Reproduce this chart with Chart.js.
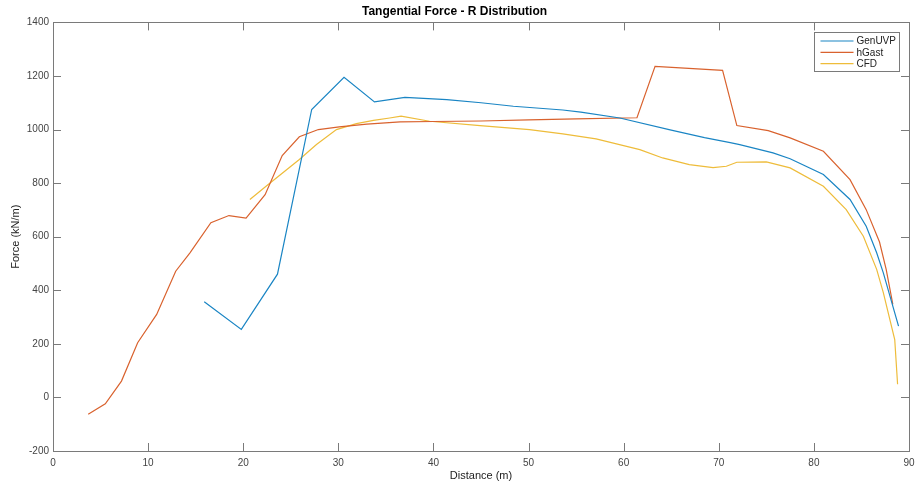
<!DOCTYPE html>
<html>
<head>
<meta charset="utf-8">
<script src="https://cdn.jsdelivr.net/npm/chart.js@4.4.1/dist/chart.umd.min.js"></script>
<style>
  html, body { margin: 0; padding: 0; background: #fff; }
  #wrap { width: 915px; height: 490px; }
</style>
</head>
<body>
<div id="wrap"><canvas id="forceChart" width="915" height="490"></canvas></div>
<script>
// Values
const genUvpX = [15.9, 19.8, 23.6, 27.2, 30.6, 33.8, 37.0, 41.4, 45.0, 48.4, 53.6, 55.5, 59.6, 65.0, 68.5, 71.2, 72.2, 75.7, 77.5, 81.0, 83.8, 85.5, 86.6, 87.3, 88.9];
const genUvpY = [357, 254, 460, 1075, 1195, 1103, 1120, 1112, 1100, 1087, 1073, 1065, 1043, 998, 970, 951, 944, 913, 891, 832, 739, 639, 540, 465, 266];

const hGastX = [3.7, 5.5, 7.2, 8.9, 10.9, 12.9, 14.4, 16.6, 18.5, 20.3, 22.3, 24.1, 25.9, 27.9, 30.1, 33.0, 36.5, 40.0, 45.0, 50.0, 55.0, 61.4, 63.3, 70.4, 71.9, 75.2, 77.5, 81.0, 83.8, 85.5, 86.9, 87.6, 88.3];
const hGastY = [-63, -24, 61, 204, 310, 471, 540, 652, 679, 669, 757, 903, 973, 1000, 1010, 1020, 1029, 1030, 1032, 1036, 1040, 1044, 1236, 1221, 1015, 996, 969, 919, 813, 701, 580, 478, 347];

const cfdX = [20.7, 22.4, 25.9, 27.7, 29.8, 31.9, 33.7, 35.4, 36.6, 39.6, 44.9, 50.1, 53.6, 57.1, 61.7, 64.1, 66.9, 69.4, 70.8, 71.9, 75.0, 77.5, 81.0, 83.4, 85.2, 86.6, 87.3, 88.5, 88.8];
const cfdY = [739, 788, 888, 944, 1000, 1022, 1034, 1043, 1050, 1031, 1015, 1000, 984, 965, 925, 894, 869, 858, 863, 878, 879, 857, 788, 701, 602, 478, 391, 216, 49];

const seriesNames = ["GenUVP", "hGast", "CFD"];
const seriesColors = ["#1a85c4", "#d9622e", "#eebc3a"];

const xTitle = "Distance (m)";
const yTitle = "Force (kN/m)";
const chartTitle = "Tangential Force - R Distribution";

function toPoints(xs, ys) {
  return xs.map((x, i) => ({ x: x, y: ys[i] }));
}

// MATLAB style box with inward ticks
const boxPlugin = {
  id: "boxPlugin",
  afterDraw(chart) {
    const ctx = chart.ctx;
    const a = chart.chartArea;
    const xs = chart.scales.x;
    const ys = chart.scales.y;
    const len = 8;
    ctx.save();
    ctx.strokeStyle = "#7a7a7a";
    ctx.lineWidth = 1;
    ctx.strokeRect(Math.round(a.left) + 0.5, Math.round(a.top) + 0.5,
      Math.round(a.right - a.left), Math.round(a.bottom - a.top));
    ctx.beginPath();
    xs.ticks.forEach(t => {
      const px = Math.round(xs.getPixelForValue(t.value)) + 0.5;
      ctx.moveTo(px, a.bottom); ctx.lineTo(px, a.bottom - len);
      ctx.moveTo(px, a.top); ctx.lineTo(px, a.top + len);
    });
    ys.ticks.forEach(t => {
      const py = Math.round(ys.getPixelForValue(t.value)) + 0.5;
      ctx.moveTo(a.left, py); ctx.lineTo(a.left + len, py);
      ctx.moveTo(a.right, py); ctx.lineTo(a.right - len, py);
    });
    ctx.stroke();
    ctx.restore();
  }
};

// legend box in the top right corner of the plot
const legendPlugin = {
  id: "legendPlugin",
  afterDraw(chart) {
    const ctx = chart.ctx;
    const a = chart.chartArea;
    const w = 85, h = 39;
    const left = Math.round(a.right - 10 - w) + 0.5;
    const top = Math.round(a.top + 10) + 0.5;
    ctx.save();
    ctx.fillStyle = "#fff";
    ctx.fillRect(left, top, w, h);
    ctx.strokeStyle = "#7a7a7a";
    ctx.lineWidth = 1;
    ctx.strokeRect(left, top, w, h);
    ctx.font = "10px 'Liberation Sans', Arial, sans-serif";
    ctx.textBaseline = "middle";
    chart.data.datasets.forEach((ds, i) => {
      const y = top + 8.5 + i * 11.3;
      ctx.strokeStyle = ds.borderColor;
      ctx.lineWidth = 1.2;
      ctx.beginPath();
      ctx.moveTo(left + 6, y);
      ctx.lineTo(left + 39, y);
      ctx.stroke();
      ctx.fillStyle = "#222";
      ctx.fillText(ds.label, left + 42, y + 0.5);
    });
    ctx.restore();
  }
};

const chartData = {
  datasets: [
    { label: seriesNames[0], data: toPoints(genUvpX, genUvpY), borderColor: seriesColors[0] },
    { label: seriesNames[1], data: toPoints(hGastX, hGastY), borderColor: seriesColors[1] },
    { label: seriesNames[2], data: toPoints(cfdX, cfdY), borderColor: seriesColors[2] },
  ].map(ds => Object.assign(ds, { borderWidth: 1.2, pointRadius: 0, fill: false, tension: 0 })),
};

const tickFont = { family: "'Liberation Sans', Arial, sans-serif", size: 10 };

const config = {
  type: "line",
  data: chartData,
  options: {
    responsive: false,
    animation: false,
    layout: { padding: { left: 0, right: 6, top: 0, bottom: 0 } },
    plugins: {
      legend: { display: false },
      tooltip: { enabled: false },
      title: {
        display: true,
        text: chartTitle,
        color: "#000",
        font: { family: "'Liberation Sans', Arial, sans-serif", size: 12, weight: "bold" },
        padding: { top: 4, bottom: 4 },
      },
    },
    scales: {
      x: {
        type: "linear",
        min: 0,
        max: 90,
        grid: { display: false, drawTicks: false },
        border: { display: false },
        ticks: { stepSize: 10, color: "#444", font: tickFont, padding: 6, maxRotation: 0, callback: v => String(v) },
        title: {
          display: true,
          text: xTitle,
          color: "#222",
          font: { family: "'Liberation Sans', Arial, sans-serif", size: 11 },
          padding: { top: 0, bottom: 7 },
        },
        afterFit(scale) {
          scale.height = 39;
          scale.paddingLeft = 0;
          scale.paddingRight = 0;
        },
      },
      y: {
        min: -200,
        max: 1400,
        grid: { display: false, drawTicks: false },
        border: { display: false },
        ticks: { stepSize: 200, color: "#444", font: tickFont, padding: 4, callback: v => String(v) },
        title: {
          display: true,
          text: yTitle,
          color: "#222",
          font: { family: "'Liberation Sans', Arial, sans-serif", size: 11 },
          padding: { top: 9, bottom: 0 },
        },
        afterFit(scale) {
          scale.width = 53;
          scale.paddingTop = 0;
          scale.paddingBottom = 0;
        },
      },
    },
  },
  plugins: [boxPlugin, legendPlugin],
};

const ctx = document.getElementById("forceChart").getContext("2d");
const myChart = new Chart(ctx, config);
</script>
</body>
</html>
